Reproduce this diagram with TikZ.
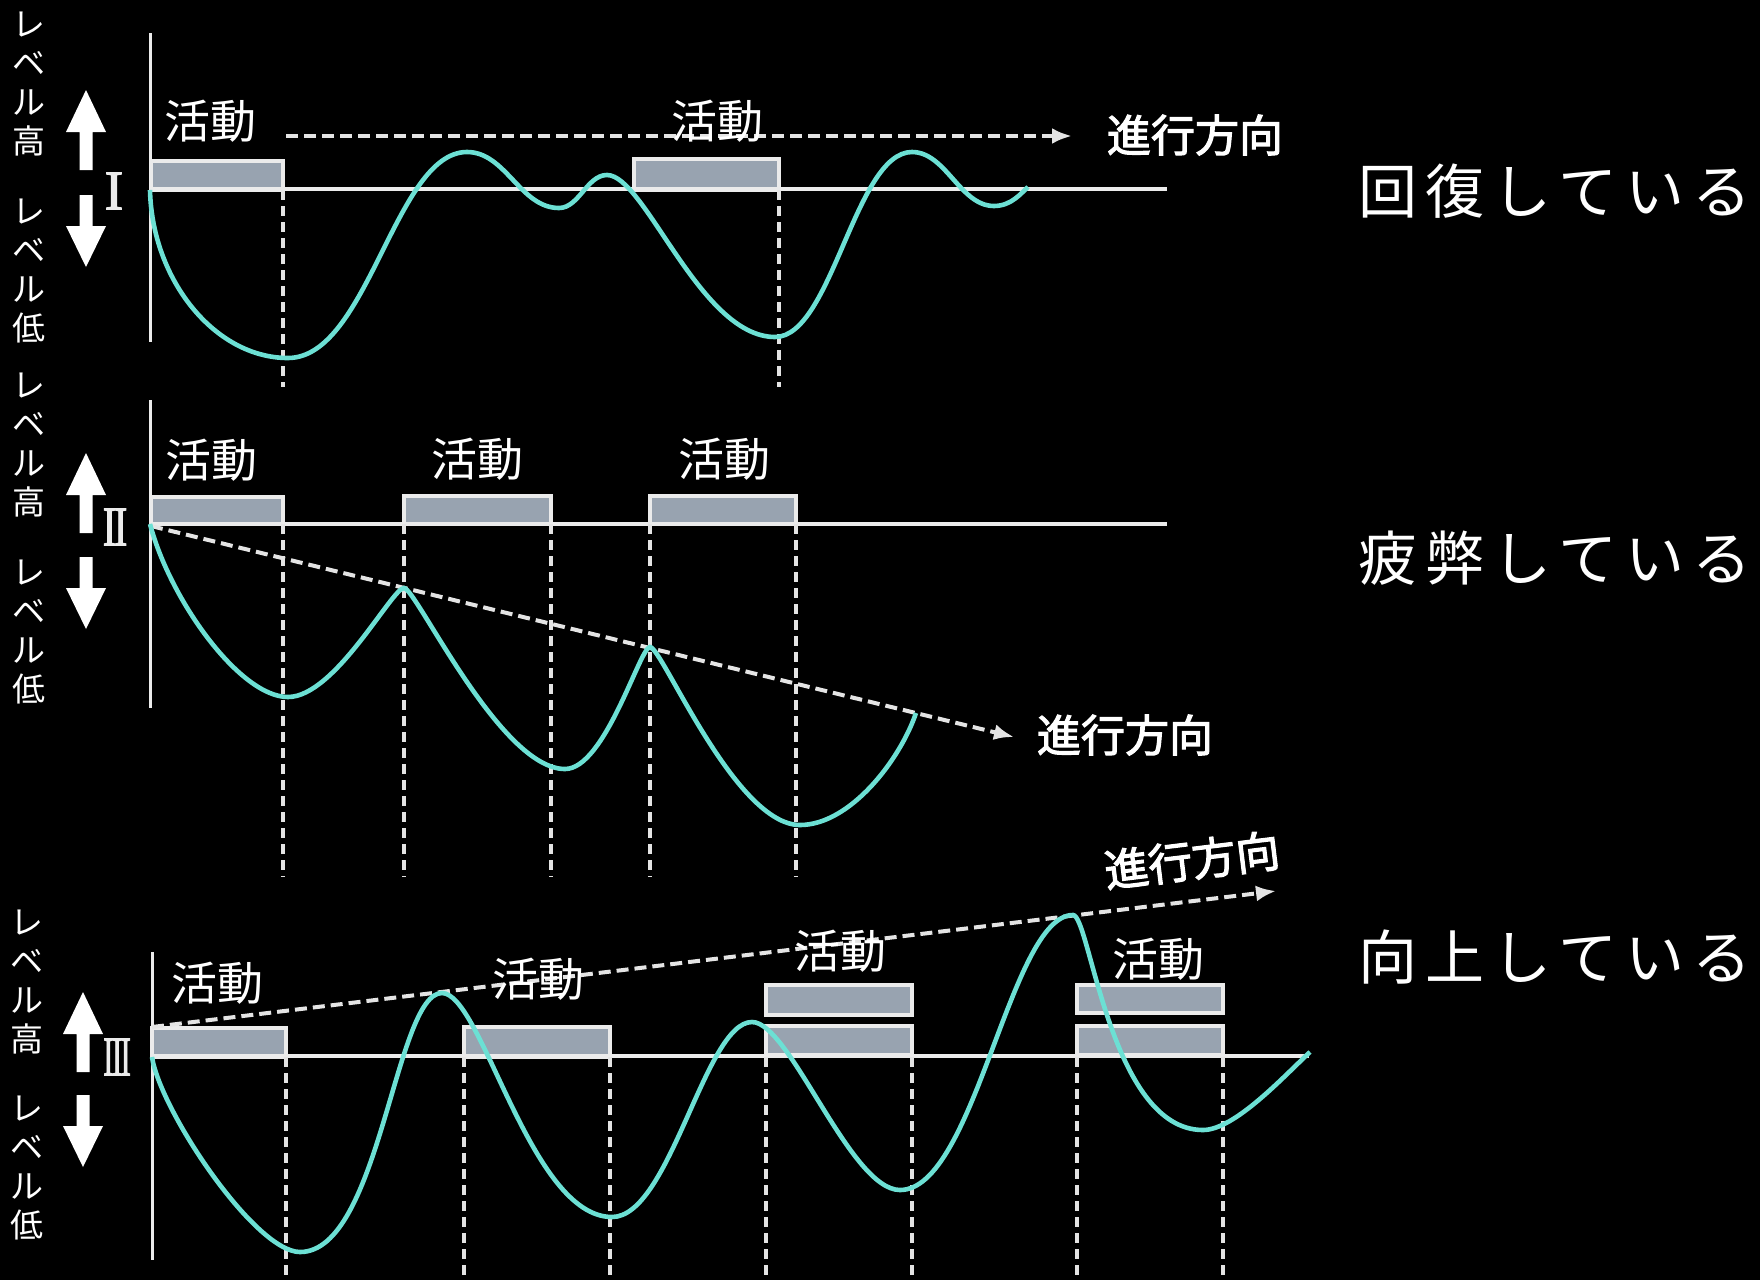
\documentclass[tikz,border=0pt]{standalone}
\usepackage{fontspec}
\setmainfont{Noto Sans CJK JP}
\newfontfamily\titlefont[LetterSpace=14]{Noto Sans CJK JP}
\newfontfamily\dirfont[FakeBold=2.5]{Noto Sans CJK JP}
\newfontfamily\romanfont[FakeBold=2]{Liberation Serif}
\usetikzlibrary{arrows.meta}
\definecolor{wave}{RGB}{108,224,212}
\definecolor{boxfill}{RGB}{152,163,176}
\definecolor{lineclr}{RGB}{235,235,235}
\definecolor{dashclr}{RGB}{228,228,228}
\tikzset{
  base/.style={draw=lineclr, line width=2pt},
  axisline/.style={draw=lineclr, line width=1.5pt},
  actbox/.style={draw=lineclr, line width=1.6pt, fill=boxfill},
  guide/.style={draw=dashclr, line width=1.6pt, dash pattern=on 5pt off 3pt},
  trend/.style={draw=dashclr, line width=2pt, dash pattern=on 6pt off 3pt, -{Latex[length=10pt,width=8pt]}},
  wavecurve/.style={draw=wave, line width=2.3pt},
  act/.style={text=white, font=\fontsize{23}{23}\selectfont, inner sep=0pt},
  dir/.style={text=white, font=\fontsize{22}{22}\dirfont, inner sep=0pt},
  title/.style={text=white, font=\fontsize{29.5}{29.5}\titlefont, inner sep=0pt, anchor=west},
  level/.style={text=white, font=\fontsize{16.5}{19.5}\selectfont, align=center, inner sep=0pt},
  roman/.style={text=lineclr, font=\fontsize{28}{28}\romanfont, inner sep=0pt},
  uparr/.pic={\fill[white] (0,0) -- (20,42) -- (6.5,42) -- (6.5,80) -- (-6.5,80) -- (-6.5,42) -- (-20,42) -- cycle;},
  downarr/.pic={\fill[white] (-6.5,0) -- (6.5,0) -- (6.5,31) -- (20,31) -- (0,72) -- (-20,31) -- (-6.5,31) -- cycle;},
}
\begin{document}
\begin{tikzpicture}[x=0.5pt,y=-0.5pt]
\useasboundingbox (0,0) rectangle (1760,1280);
\fill[black] (0,0) rectangle (1760,1280);

% ---------------- Panel I ----------------
\node[level] (l1h) at (29,84) {レ\\ベ\\ル\\高};
\node[level] (l1l) at (29,271) {レ\\ベ\\ル\\低};
\pic at (86,90) {uparr};
\pic at (86,195) {downarr};
\node[roman] (r1) at (114,191) {I};
\draw[axisline] (150,33) -- (150,342);
\draw[actbox] (151,161) rectangle (283,190);
\draw[actbox] (634,159) rectangle (779,190);
\draw[base] (150,189) -- (1167,189);
\draw[guide] (283,190) -- (283,387);
\draw[guide] (779,190) -- (779,387);
\coordinate (t1s) at (286,136);
\coordinate (t1e) at (1072,136);
\draw[trend] (t1s) -- (t1e);
\node[act] (a11) at (210,121) {活動};
\node[act] (a12) at (717,121) {活動};
\node[dir] (d1) at (1195,135) {進行方向};
\draw[wavecurve] (150,190)
  .. controls (152,280) and (215,358) .. (288,358)
  .. controls (368,358) and (395,152) .. (467,152)
  .. controls (506,152) and (520,208) .. (559,208)
  .. controls (579,208) and (587,175) .. (607,175)
  .. controls (645,175) and (700,337) .. (775,337)
  .. controls (832,337) and (855,152) .. (912,152)
  .. controls (946,152) and (960,206) .. (994,206)
  .. controls (1012,206) and (1022,192) .. (1028,187);
\node[title] (t1) at (1358,191) {回復している};

% ---------------- Panel II ----------------
\node[level] (l2h) at (29,445) {レ\\ベ\\ル\\高};
\node[level] (l2l) at (29,632) {レ\\ベ\\ル\\低};
\pic at (86,453) {uparr};
\pic at (86,557) {downarr};
\node[roman] (r2) at (115,527) {\scalebox{0.72}[1]{I\kern-0.06em I}};
\draw[axisline] (150,400) -- (150,708);
\draw[actbox] (151,497) rectangle (283,524);
\draw[actbox] (404,496) rectangle (551,524);
\draw[actbox] (650,496) rectangle (796,524);
\draw[base] (150,524) -- (1167,524);
\foreach \gx in {283,404,551,650,796} \draw[guide] (\gx,524) -- (\gx,877);
\coordinate (t2s) at (151,526);
\coordinate (t2e) at (1014,737);
\draw[trend] (t2s) -- (t2e);
\node[act] (a21) at (211,460) {活動};
\node[act] (a22) at (477,459) {活動};
\node[act] (a23) at (724,459) {活動};
\node[dir] (d2) at (1125,735) {進行方向};
\draw[wavecurve] (150,524)
  .. controls (170,600) and (240,697) .. (288,697)
  .. controls (335,697) and (392,588) .. (404,588)
  .. controls (416,588) and (500,769) .. (565,769)
  .. controls (605,769) and (640,647) .. (650,647)
  .. controls (662,647) and (735,825) .. (800,825)
  .. controls (850,825) and (900,760) .. (916,713);
\node[title] (t2) at (1358,558) {疲弊している};

% ---------------- Panel III ----------------
\node[level] (l3h) at (27,982) {レ\\ベ\\ル\\高};
\node[level] (l3l) at (27,1168) {レ\\ベ\\ル\\低};
\pic at (83,992) {uparr};
\pic at (83,1095) {downarr};
\node[roman] (r3) at (117,1057) {\scalebox{0.56}[1]{I\kern-0.06em I\kern-0.06em I}};
\draw[axisline] (152,952) -- (152,1260);
\draw[actbox] (152,1028) rectangle (286,1057);
\draw[actbox] (464,1027) rectangle (610,1057);
\draw[actbox] (766,1026) rectangle (912,1055);
\draw[actbox] (766,985) rectangle (912,1015);
\draw[actbox] (1077,1026) rectangle (1223,1055);
\draw[actbox] (1077,985) rectangle (1223,1013);
\draw[base] (152,1056) -- (1309,1056);
\foreach \gx in {286,464,610,766,912,1077,1223} \draw[guide] (\gx,1057) -- (\gx,1280);
\coordinate (t3s) at (152,1027);
\coordinate (t3e) at (1276,891);
\draw[trend] (t3s) -- (t3e);
\node[act] (a31) at (217,983) {活動};
\node[act] (a32) at (538,979) {活動};
\node[act] (a33) at (840,951) {活動};
\node[act] (a34) at (1158,959) {活動};
\node[dir, rotate=7] (d3) at (1192,860) {進行方向};
\draw[wavecurve] (152,1057)
  .. controls (160,1110) and (255,1252) .. (300,1252)
  .. controls (380,1252) and (395,993) .. (442,993)
  .. controls (482,993) and (530,1217) .. (612,1217)
  .. controls (670,1217) and (705,1022) .. (752,1022)
  .. controls (790,1022) and (850,1190) .. (900,1190)
  .. controls (975,1190) and (1010,915) .. (1073,915)
  .. controls (1090,915) and (1110,1130) .. (1203,1130)
  .. controls (1235,1130) and (1285,1075) .. (1310,1052);
\node[title] (t3) at (1358,957) {向上している};
\end{tikzpicture}
\end{document}
